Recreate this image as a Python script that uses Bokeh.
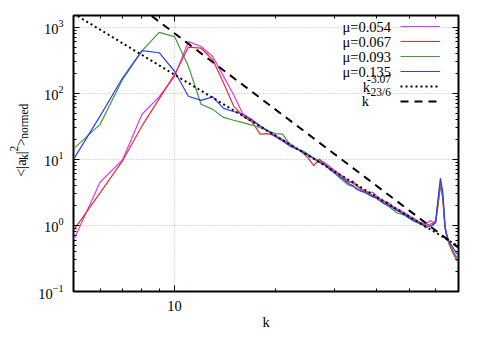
import numpy as np
from bokeh.plotting import figure
from bokeh.layouts import row
from bokeh.models import (FixedTicker, LogAxis, BasicTickFormatter, CustomJSTickFormatter,
                          LogTickFormatter, Label, Legend, LegendItem, Range1d)
from bokeh.embed import file_html
from bokeh.resources import INLINE

# ---------------- data ----------------
k = list(range(5, 71))

mu_054 = [0.59, 4.5, 9.8, 48, 88, 180, 603, 509, 360, 180, 95, 48,
          38, 32, 27, 23, 20, 17.5, 15, 13.2, 11.6, 10.3, 9.4, 9.0, 7.8, 6.8,
          6.0, 5.4, 4.7, 4.3, 4.0, 3.6, 3.3, 3.2, 3.17, 2.8, 2.55, 2.35, 2.25, 2.1,
          1.9, 1.78, 1.7, 1.6, 1.5, 1.4, 1.32, 1.25, 1.18, 1.12, 1.08, 1.05, 1.12, 1.19,
          1.1, 1.18, 2.3, 4.4, 2.8, 0.95, 0.65, 0.53, 0.45, 0.39, 0.34, 0.31]

mu_067 = [0.84, 3.1, 9.5, 32, 82, 191, 497, 480, 321, 143, 64, 45,
          37, 24, 24.4, 22.5, 19.5, 16.5, 14.8, 12.8, 10.5, 8.0, 10.1, 8.5, 7.4, 6.6,
          5.9, 5.1, 4.5, 4.7, 3.9, 3.5, 3.3, 3.1, 2.8, 2.7, 2.45, 2.3, 2.15, 1.95,
          1.9, 1.72, 1.62, 1.5, 1.45, 1.35, 1.25, 1.22, 1.13, 1.1, 1.05, 1.0, 1.04, 1.05,
          1.08, 1.12, 2.0, 4.0, 2.6, 0.9, 0.62, 0.5, 0.42, 0.36, 0.31, 0.28]

mu_093 = [14.4, 33.8, 161, 437, 835, 720, 255, 68, 57, 43, 39, 36,
          33, 30, 27, 24.5, 24, 17, 14.5, 13.6, 12, 10.5, 9.4, 8.2, 7.2, 6.2,
          5.3, 4.6, 4.1, 3.9, 3.6, 3.3, 3.1, 2.95, 2.75, 2.55, 2.35, 2.2, 2.0, 1.85,
          1.7, 1.55, 1.5, 1.45, 1.38, 1.28, 1.2, 1.15, 1.1, 1.05, 1.0, 0.98, 0.97, 1.0,
          1.03, 1.1, 2.1, 4.5, 2.9, 0.95, 0.64, 0.53, 0.45, 0.39, 0.34, 0.31]

mu_135 = [10, 45, 170, 440, 410, 215, 90, 78, 88, 59, 53, 48,
          40, 32, 26.5, 22, 19, 16, 14.5, 13, 11.5, 10.2, 9.0, 8.3, 7.0, 6.2,
          5.5, 4.9, 4.3, 4.0, 3.5, 3.3, 3.2, 2.9, 2.7, 2.6, 2.35, 2.15, 2.05, 1.95,
          1.8, 1.68, 1.6, 1.48, 1.42, 1.3, 1.25, 1.16, 1.12, 1.05, 1.03, 0.92, 0.96, 0.98,
          1.02, 1.12, 2.5, 5.2, 3.3, 0.95, 0.68, 0.56, 0.5, 0.44, 0.39, 0.36]

fit_k = [5.0, 70.0]
dotted_amp, dotted_exp = 2.245e5, -3.07
dashed_amp, dashed_exp = 5.5e6, -23.0 / 6.0

legend_labels = ["μ=0.054", "μ=0.067", "μ=0.093", "μ=0.135"]
colors = ["#d03cff", "#f02a2a", "#3c9c3c", "#2f3cff"]

y_major = [0.1, 1, 10, 100, 1000]
y_minor = [m * 10.0 ** e for e in range(-1, 4) for m in range(2, 10)]
x_major = [10]
x_minor = [6, 7, 8, 9, 20, 30, 40, 50, 60]

FONT = "Liberation Serif"
FS = "14.5px"
FS_SMALL = "11.5px"
H = 337

# ---------------- main figure ----------------
p = figure(frame_width=385, frame_height=276, x_axis_type="log", y_axis_type="log",
           x_range=Range1d(5, 70.2), y_range=Range1d(0.1, 1500),
           output_backend="svg", toolbar_location=None,
           min_border_left=43, min_border_right=20, min_border_top=15, min_border_bottom=46,
           background_fill_color="white", border_fill_color="white")

p.outline_line_color = "black"
p.outline_line_width = 2

renderers = []
for ys, c in zip([mu_054, mu_067, mu_093, mu_135], colors):
    renderers.append(p.line(k, ys, line_color=c, line_width=1.2))

fit_dot = [dotted_amp * kk ** dotted_exp for kk in fit_k]
fit_dash = [dashed_amp * kk ** dashed_exp for kk in fit_k]
r_dot = p.line(fit_k, fit_dot, line_color="black", line_width=2, line_dash="2 3")
r_dash = p.line(fit_k, fit_dash, line_color="black", line_width=2, line_dash="8 6")
renderers += [r_dot, r_dash]

# axes
xt = FixedTicker(ticks=x_major, minor_ticks=x_minor)
yt = FixedTicker(ticks=y_major, minor_ticks=y_minor)
xb = p.below[0]
yl = p.left[0]
xb.ticker = xt
xb.formatter = BasicTickFormatter()
yl.ticker = yt
yl.formatter = LogTickFormatter()

top = LogAxis(ticker=xt, formatter=CustomJSTickFormatter(code="return ''"))
right = LogAxis(ticker=yt, formatter=CustomJSTickFormatter(code="return ''"))
p.add_layout(top, "above")
p.add_layout(right, "right")

for ax in [xb, yl, top, right]:
    ax.axis_line_color = None
    ax.major_tick_in = 6
    ax.major_tick_out = 0
    ax.minor_tick_in = 3
    ax.minor_tick_out = 0
    ax.major_tick_line_color = "black"
    ax.minor_tick_line_color = "black"
    ax.major_label_text_font = FONT
    ax.major_label_text_font_size = FS
    ax.major_label_text_color = "black"
for ax in [top, right]:
    ax.major_label_text_font_size = "0px"
    ax.major_label_standoff = 0
xb.major_label_standoff = 9
yl.major_label_standoff = 10
xb.axis_label = "k"
xb.axis_label_text_font = FONT
xb.axis_label_text_font_size = FS
xb.axis_label_text_font_style = "normal"
xb.axis_label_text_color = "black"
xb.axis_label_standoff = 0

p.xgrid.grid_line_color = "#b4b4b4"
p.xgrid.grid_line_dash = "1 2"
p.ygrid.grid_line_color = "#b4b4b4"
p.ygrid.grid_line_dash = "1 2"

# legend (line samples) with text drawn beside it
items = [LegendItem(label=" ", renderers=[r]) for r in renderers]
leg = Legend(items=items, location=(327, 183), glyph_width=40, glyph_height=14,
             label_height=14, label_width=0, label_standoff=0, spacing=1,
             padding=0, margin=0, border_line_color=None, background_fill_alpha=0,
             label_text_font_size="1px")
p.add_layout(leg)

def lab(fig, text, x, y, units="screen", size=FS, align="left", base="middle", angle=0.0):
    fig.add_layout(Label(x=x, y=y, x_units=units, y_units=units, text=text,
                         text_font=FONT, text_font_size=size, text_color="black",
                         text_align=align, text_baseline=base, angle=angle))

# legend texts (frame-relative screen units, y up)
row_y = [265, 250, 235, 220]
for t, yy in zip(legend_labels, row_y):
    lab(p, t, 317.5, yy, align="right")
lab(p, "-3.07", 317.5, 213, size=FS_SMALL, align="right")
lab(p, "k", 296.5, 205, align="right")
lab(p, "-23/6", 317.5, 200, size=FS_SMALL, align="right")
lab(p, "k", 295.5, 191, align="right")

# ---------------- y-axis title panel ----------------
q = figure(width=30, height=H, x_range=Range1d(0, 30), y_range=Range1d(0, H),
           output_backend="svg", toolbar_location=None, min_border=0,
           x_axis_location=None, y_axis_location=None,
           background_fill_color="white", border_fill_color="white")
q.grid.visible = False
q.outline_line_color = None

A = np.pi / 2
bx = 20.0
pieces = [("<|a", bx, 197, FS), ("k", bx + 3.5, 176.5, FS_SMALL), ("|", bx, 169.5, FS),
          ("2", bx - 7, 166, FS_SMALL), (">", bx, 159.5, FS), ("normed", bx + 3.5, 150.5, FS_SMALL)]
for t, xx, page_y, fs in pieces:
    lab(q, t, xx, H - page_y, units="data", size=fs, angle=A, base="alphabetic")

layout = row(q, p, spacing=0)
open("out.html", "w").write(file_html(layout, INLINE))
